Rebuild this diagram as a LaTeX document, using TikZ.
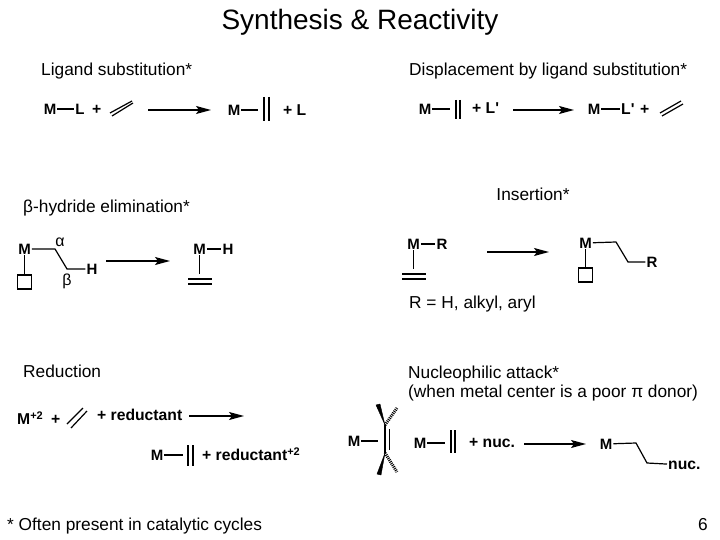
\documentclass[tikz,border=0pt]{standalone}
\usepackage{fontspec}
\setmainfont[Ligatures=TeXOff]{Liberation Sans}
\usetikzlibrary{arrows.meta}
\begin{document}
\begin{tikzpicture}[x=1pt, y=-1pt,
	heading/.style={font=\fontsize{17.3}{19}\selectfont, inner sep=0pt, align=left},
	atom/.style={font=\fontsize{15}{17}\selectfont\bfseries, inner sep=1pt},
	term/.style={font=\fontsize{15.7}{18}\selectfont\bfseries, inner sep=0pt, anchor=west},
	greek/.style={font=\fontsize{16}{18}\selectfont, inner sep=0pt},
	bond/.style={line width=1.2pt},
	bar/.style={line width=1.5pt},
	hashed/.style={line width=3pt, dash pattern=on 1pt off 1pt},
	wedge/.style={fill=black},
	react/.style={line width=1.2pt, -{Stealth[length=15pt, width=8pt, inset=3pt]}}]
	\useasboundingbox (0, 0) rectangle (720, 540);

	\node[font=\fontsize{28}{32}\selectfont, inner sep=0pt] (title) at (360, 22.5) {Synthesis \& Reactivity};
	\node[heading, anchor=west] (ligand-sub) at (41, 71.5) {Ligand substitution*};
	\node[heading, anchor=west] (displacement) at (409, 71.5) {Displacement by ligand substitution*};
	\node[heading, anchor=west] (beta-elim) at (23, 208.5) {β-hydride elimination*};
	\node[heading] (insertion) at (533, 194) {Insertion*};
	\node[heading, anchor=west] (r-note) at (409, 304.5) {R = H, alkyl, aryl};
	\node[heading, anchor=west] (reduction) at (23, 371) {Reduction};
	\node[heading, anchor=north west] (nucleophilic) at (408, 366) {Nucleophilic attack*\\(when metal center is a poor π donor)};
	\node[heading, anchor=west] (footnote) at (7, 526) {* Often present in catalytic cycles};
	\node[heading] (page) at (703, 525) {6};

	\node[atom] (m-1) at (50, 109) {M};
	\node[atom] (l-1) at (80, 109) {L};
	\node[term] (plus-1) at (92, 110) {+};
	\draw[bond] (m-1) -- (l-1);
	\coordinate (e-1a) at (110, 113);
	\coordinate (e-1b) at (132, 101);
	\coordinate (e-1c) at (112, 116);
	\coordinate (e-1d) at (133, 103);
	\draw[bond] (e-1a) -- (e-1b);
	\draw[bond] (e-1c) -- (e-1d);
	\coordinate (a-1s) at (148, 110);
	\coordinate (a-1e) at (211, 110);
	\draw[react] (a-1s) -- (a-1e);
	\node[atom] (m-2) at (234, 110) {M};
	\coordinate (p-2) at (258, 110);
	\draw[bond] (m-2) -- (p-2);
	\coordinate (b-2a) at (264, 97);
	\coordinate (b-2b) at (264, 121);
	\coordinate (b-2c) at (269, 97);
	\coordinate (b-2d) at (269, 121);
	\draw[bar] (b-2a) -- (b-2b);
	\draw[bar] (b-2c) -- (b-2d);
	\node[term] (plus-l) at (283, 110) {+ L};

	\node[atom] (m-3) at (425, 109) {M};
	\coordinate (p-3) at (450, 109);
	\draw[bond] (m-3) -- (p-3);
	\coordinate (b-3a) at (456, 100);
	\coordinate (b-3b) at (456, 119);
	\coordinate (b-3c) at (460, 100);
	\coordinate (b-3d) at (460, 119);
	\draw[bar] (b-3a) -- (b-3b);
	\draw[bar] (b-3c) -- (b-3d);
	\node[term] (plus-l2) at (472, 108) {+ L'};
	\coordinate (a-2s) at (513, 110);
	\coordinate (a-2e) at (574, 110);
	\draw[react] (a-2s) -- (a-2e);
	\node[atom] (m-4) at (594, 109) {M};
	\node[term, inner sep=1pt] (l-4) at (620, 109) {L'};
	\draw[bond] (m-4) -- (l-4);
	\node[term] (plus-4) at (640, 109.5) {+};
	\coordinate (e-4a) at (660, 113);
	\coordinate (e-4b) at (681, 101);
	\coordinate (e-4c) at (662, 116);
	\coordinate (e-4d) at (683, 104);
	\draw[bond] (e-4a) -- (e-4b);
	\draw[bond] (e-4c) -- (e-4d);

	\node[atom] (m-5) at (24.5, 249) {M};
	\coordinate (k-5a) at (55, 249);
	\coordinate (k-5b) at (67, 269);
	\node[atom] (h-5) at (92, 269) {H};
	\draw[bond] (m-5) -- (k-5a) -- (k-5b) -- (h-5);
	\node[greek] (alpha) at (60, 242) {α};
	\node[greek] (beta) at (67, 281) {β};
	\node[draw, line width=1.2pt, minimum size=14pt, inner sep=0pt] (vac-5) at (24.5, 282) {};
	\draw[bond] (m-5) -- (vac-5);
	\coordinate (a-3s) at (106, 261);
	\coordinate (a-3e) at (170, 261);
	\draw[react] (a-3s) -- (a-3e);
	\node[atom] (m-6) at (199.5, 249) {M};
	\node[atom] (h-6) at (228, 249) {H};
	\draw[bond] (m-6) -- (h-6);
	\coordinate (p-6) at (199.5, 274);
	\draw[bond] (m-6) -- (p-6);
	\coordinate (d-6a) at (188, 279);
	\coordinate (d-6b) at (212, 279);
	\coordinate (d-6c) at (188, 284);
	\coordinate (d-6d) at (212, 284);
	\draw[bar] (d-6a) -- (d-6b);
	\draw[bar] (d-6c) -- (d-6d);

	\node[atom] (m-7) at (413.5, 244) {M};
	\node[atom] (r-7) at (442, 244) {R};
	\draw[bond] (m-7) -- (r-7);
	\coordinate (p-7) at (413.5, 269);
	\draw[bond] (m-7) -- (p-7);
	\coordinate (d-7a) at (402, 274);
	\coordinate (d-7b) at (426, 274);
	\coordinate (d-7c) at (402, 279);
	\coordinate (d-7d) at (426, 279);
	\draw[bar] (d-7a) -- (d-7b);
	\draw[bar] (d-7c) -- (d-7d);
	\coordinate (a-4s) at (487, 252);
	\coordinate (a-4e) at (549, 252);
	\draw[react] (a-4s) -- (a-4e);
	\node[atom] (m-8) at (585.5, 243) {M};
	\coordinate (k-8a) at (616, 242);
	\coordinate (k-8b) at (628, 262);
	\node[atom] (r-8) at (652, 262) {R};
	\draw[bond] (m-8) -- (k-8a) -- (k-8b) -- (r-8);
	\node[draw, line width=1.2pt, minimum size=14pt, inner sep=0pt] (vac-8) at (585.5, 275) {};
	\draw[bond] (m-8) -- (vac-8);

	\node[term, inner sep=0pt] (m-9) at (17, 418) {M\textsuperscript{+2}};
	\node[term] (plus-9) at (51, 420) {+};
	\coordinate (e-9a) at (67, 424);
	\coordinate (e-9b) at (83, 408);
	\coordinate (e-9c) at (71, 428);
	\coordinate (e-9d) at (87, 411);
	\draw[bond] (e-9a) -- (e-9b);
	\draw[bond] (e-9c) -- (e-9d);
	\node[term] (red-1) at (97, 415) {+ reductant};
	\coordinate (a-5s) at (189, 416);
	\coordinate (a-5e) at (244, 416);
	\draw[react] (a-5s) -- (a-5e);
	\node[atom] (m-10) at (157, 455) {M};
	\coordinate (p-10) at (183, 455);
	\draw[bond] (m-10) -- (p-10);
	\coordinate (b-10a) at (188, 445);
	\coordinate (b-10b) at (188, 466);
	\coordinate (b-10c) at (193, 445);
	\coordinate (b-10d) at (193, 466);
	\draw[bar] (b-10a) -- (b-10b);
	\draw[bar] (b-10c) -- (b-10d);
	\node[term] (red-2) at (202, 454) {+ reductant\textsuperscript{+2}};

	\node[atom] (m-11) at (354, 441) {M};
	\coordinate (p-11) at (378, 441);
	\draw[bond] (m-11) -- (p-11);
	\coordinate (c-11a) at (385, 425);
	\coordinate (c-11b) at (385, 453);
	\coordinate (c-11c) at (389, 429);
	\coordinate (c-11d) at (389, 450);
	\draw[bar] (c-11a) -- (c-11b);
	\draw[line width=0.7pt] (c-11c) -- (c-11d);
	\coordinate (w-11a) at (376, 405);
	\coordinate (w-11b) at (380, 404);
	\coordinate (w-11c) at (381, 475);
	\coordinate (w-11d) at (377, 474);
	\coordinate (h-11a) at (397, 408);
	\coordinate (h-11b) at (397, 472);
	\draw[wedge] (c-11a) -- (w-11a) -- (w-11b) -- cycle;
	\draw[wedge] (c-11b) -- (w-11c) -- (w-11d) -- cycle;
	\draw[hashed] (c-11a) -- (h-11a);
	\draw[hashed] (c-11b) -- (h-11b);

	\node[atom] (m-12) at (420, 443) {M};
	\coordinate (p-12) at (445, 443);
	\draw[bond] (m-12) -- (p-12);
	\coordinate (b-12a) at (451, 430);
	\coordinate (b-12b) at (451, 453);
	\coordinate (b-12c) at (455, 430);
	\coordinate (b-12d) at (455, 453);
	\draw[bar] (b-12a) -- (b-12b);
	\draw[bar] (b-12c) -- (b-12d);
	\node[term] (nuc-1) at (469, 443) {+ nuc.};
	\coordinate (a-6s) at (524, 444);
	\coordinate (a-6e) at (586, 444);
	\draw[react] (a-6s) -- (a-6e);
	\node[atom] (m-13) at (606, 444) {M};
	\coordinate (k-13a) at (636, 443);
	\coordinate (k-13b) at (647, 463);
	\node[term, inner sep=1pt] (nuc-2) at (667, 465) {nuc.};
	\draw[bond] (m-13) -- (k-13a) -- (k-13b) -- (nuc-2);
\end{tikzpicture}
\end{document}
